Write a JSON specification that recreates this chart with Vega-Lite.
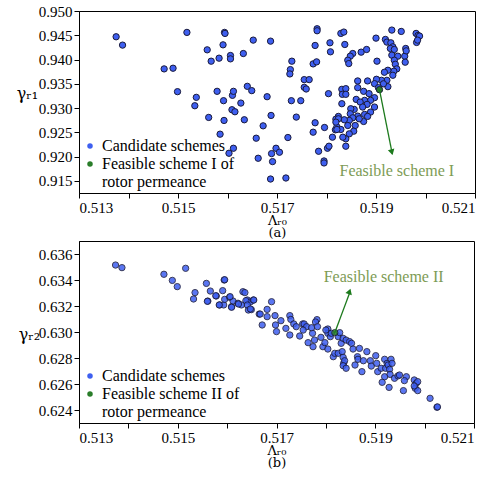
{
  "$schema": "https://vega.github.io/schema/vega-lite/v6.json",
  "padding": {"left": 15, "top": 3, "right": 5, "bottom": 2},
  "background": "white",
  "spacing": 0,
  "config": {
    "font": "Liberation Serif",
    "view": {"stroke": "black", "strokeWidth": 1},
    "axis": {"grid": false, "labelFont": "Liberation Serif", "titleFont": "DejaVu Serif", "labelFontSize": 15, "labelColor": "black", "domainColor": "black", "tickColor": "black", "tickSize": 5, "titleFontWeight": "normal", "titleColor": "black"},
    "legend": {"labelFont": "Liberation Serif", "labelFontSize": 16, "labelColor": "black"}
  },
  "datasets": {
    "top": [
      {"x":0.51375,"y":0.94469,"k":"c"},{"x":0.51388,"y":0.94297,"k":"c"},{"x":0.51472,"y":0.93807,"k":"c"},{"x":0.51490,"y":0.93821,"k":"c"},{"x":0.51499,"y":0.93338,"k":"c"},{"x":0.51518,"y":0.94559,"k":"c"},{"x":0.51537,"y":0.93221,"k":"c"},{"x":0.51534,"y":0.93048,"k":"c"},{"x":0.51559,"y":0.94200,"k":"c"},{"x":0.51567,"y":0.93966,"k":"c"},{"x":0.51562,"y":0.92807,"k":"c"},{"x":0.51579,"y":0.93345,"k":"c"},{"x":0.51583,"y":0.94028,"k":"c"},{"x":0.51591,"y":0.94303,"k":"c"},{"x":0.51592,"y":0.93152,"k":"c"},{"x":0.51594,"y":0.94559,"k":"c"},{"x":0.51595,"y":0.94538,"k":"c"},{"x":0.51593,"y":0.92745,"k":"c"},{"x":0.51606,"y":0.94083,"k":"c"},{"x":0.51606,"y":0.94014,"k":"c"},{"x":0.51610,"y":0.93262,"k":"c"},{"x":0.51612,"y":0.93345,"k":"c"},{"x":0.51609,"y":0.92966,"k":"c"},{"x":0.51615,"y":0.92924,"k":"c"},{"x":0.51585,"y":0.92462,"k":"c"},{"x":0.51603,"y":0.92069,"k":"c"},{"x":0.51612,"y":0.92172,"k":"c"},{"x":0.51627,"y":0.93103,"k":"c"},{"x":0.51632,"y":0.94124,"k":"c"},{"x":0.51634,"y":0.92759,"k":"c"},{"x":0.51640,"y":0.93448,"k":"c"},{"x":0.51649,"y":0.93359,"k":"c"},
      {"x":0.51652,"y":0.94400,"k":"c"},{"x":0.51687,"y":0.94379,"k":"c"},{"x":0.51680,"y":0.93234,"k":"c"},{"x":0.51688,"y":0.92848,"k":"c"},{"x":0.51672,"y":0.92634,"k":"c"},{"x":0.51658,"y":0.92379,"k":"c"},{"x":0.51662,"y":0.91966,"k":"c"},{"x":0.51698,"y":0.92172,"k":"c"},{"x":0.51705,"y":0.92090,"k":"c"},{"x":0.51689,"y":0.92062,"k":"c"},{"x":0.51691,"y":0.91897,"k":"c"},{"x":0.51687,"y":0.91538,"k":"c"},{"x":0.51718,"y":0.91559,"k":"c"},{"x":0.51722,"y":0.92393,"k":"c"},{"x":0.51727,"y":0.93793,"k":"c"},{"x":0.51726,"y":0.93703,"k":"c"},{"x":0.51730,"y":0.93966,"k":"c"},{"x":0.51729,"y":0.93152,"k":"c"},{"x":0.51739,"y":0.92814,"k":"c"},{"x":0.51748,"y":0.93152,"k":"c"},{"x":0.51755,"y":0.93586,"k":"c"},{"x":0.51755,"y":0.93428,"k":"c"},{"x":0.51759,"y":0.93393,"k":"c"},{"x":0.51765,"y":0.93586,"k":"c"},{"x":0.51773,"y":0.93910,"k":"c"},{"x":0.51780,"y":0.93952,"k":"c"},{"x":0.51777,"y":0.94290,"k":"c"},{"x":0.51781,"y":0.94634,"k":"c"},{"x":0.51781,"y":0.94593,"k":"c"},{"x":0.51773,"y":0.92503,"k":"c"},{"x":0.51777,"y":0.92697,"k":"c"},{"x":0.51796,"y":0.92600,"k":"c"},{"x":0.51784,"y":0.92110,"k":"c"},{"x":0.51795,"y":0.91910,"k":"c"},{"x":0.51795,"y":0.91869,"k":"c"},{"x":0.51802,"y":0.92172,"k":"c"},{"x":0.51805,"y":0.92214,"k":"c"},{"x":0.51804,"y":0.93297,"k":"c"},{"x":0.51807,"y":0.94345,"k":"c"},{"x":0.51808,"y":0.94159,"k":"c"},{"x":0.51812,"y":0.92400,"k":"c"},{"x":0.51818,"y":0.92552,"k":"c"},{"x":0.51821,"y":0.92614,"k":"c"},{"x":0.51824,"y":0.92828,"k":"c"},{"x":0.51819,"y":0.92772,"k":"c"},
      {"x":0.51829,"y":0.94538,"k":"c"},{"x":0.51835,"y":0.94566,"k":"c"},{"x":0.51837,"y":0.94310,"k":"c"},{"x":0.51853,"y":0.94124,"k":"c"},{"x":0.51848,"y":0.94069,"k":"c"},{"x":0.51843,"y":0.93986,"k":"c"},{"x":0.51845,"y":0.93917,"k":"c"},{"x":0.51870,"y":0.94152,"k":"c"},{"x":0.51881,"y":0.94207,"k":"c"},{"x":0.51900,"y":0.94441,"k":"c"},{"x":0.51902,"y":0.93966,"k":"c"},{"x":0.51919,"y":0.94414,"k":"c"},{"x":0.51922,"y":0.94359,"k":"c"},{"x":0.51930,"y":0.94345,"k":"c"},{"x":0.51932,"y":0.94607,"k":"c"},{"x":0.51951,"y":0.94579,"k":"c"},{"x":0.51934,"y":0.94262,"k":"c"},{"x":0.51929,"y":0.94228,"k":"c"},{"x":0.51937,"y":0.94207,"k":"c"},{"x":0.51932,"y":0.94090,"k":"c"},{"x":0.51944,"y":0.94069,"k":"c"},{"x":0.51958,"y":0.94069,"k":"c"},{"x":0.51960,"y":0.94228,"k":"c"},{"x":0.51961,"y":0.94179,"k":"c"},{"x":0.51959,"y":0.93945,"k":"c"},{"x":0.51937,"y":0.93986,"k":"c"},{"x":0.51939,"y":0.93903,"k":"c"},{"x":0.51942,"y":0.93807,"k":"c"},{"x":0.51936,"y":0.93759,"k":"c"},{"x":0.51924,"y":0.93779,"k":"c"},{"x":0.51917,"y":0.93738,"k":"c"},{"x":0.51934,"y":0.93676,"k":"c"},{"x":0.51922,"y":0.93572,"k":"c"},{"x":0.51911,"y":0.93572,"k":"c"},{"x":0.51901,"y":0.93593,"k":"c"},{"x":0.51897,"y":0.93503,"k":"c"},{"x":0.51924,"y":0.93441,"k":"c"},{"x":0.51981,"y":0.94538,"k":"c"},{"x":0.51985,"y":0.94497,"k":"c"},{"x":0.51988,"y":0.94483,"k":"c"},{"x":0.51982,"y":0.94352,"k":"c"},{"x":0.51984,"y":0.94400,"k":"c"},{"x":0.51863,"y":0.93559,"k":"c"},{"x":0.51883,"y":0.93559,"k":"c"},{"x":0.51831,"y":0.93386,"k":"c"},{"x":0.51839,"y":0.93400,"k":"c"},{"x":0.51832,"y":0.93283,"k":"c"},{"x":0.51839,"y":0.93283,"k":"c"},{"x":0.51831,"y":0.93090,"k":"c"},{"x":0.51863,"y":0.93421,"k":"c"},{"x":0.51875,"y":0.93345,"k":"c"},{"x":0.51886,"y":0.93297,"k":"c"},{"x":0.51897,"y":0.93214,"k":"c"},{"x":0.51889,"y":0.93159,"k":"c"},{"x":0.51877,"y":0.93159,"k":"c"},{"x":0.51860,"y":0.93179,"k":"c"},{"x":0.51868,"y":0.93124,"k":"c"},{"x":0.51882,"y":0.93076,"k":"c"},{"x":0.51873,"y":0.93021,"k":"c"},{"x":0.51856,"y":0.92972,"k":"c"},{"x":0.51897,"y":0.93021,"k":"c"},{"x":0.51889,"y":0.92917,"k":"c"},{"x":0.51849,"y":0.92986,"k":"c"},{"x":0.51848,"y":0.92883,"k":"c"},{"x":0.51863,"y":0.92834,"k":"c"},{"x":0.51877,"y":0.92869,"k":"c"},{"x":0.51875,"y":0.92724,"k":"c"},{"x":0.51853,"y":0.92800,"k":"c"},{"x":0.51846,"y":0.92745,"k":"c"},{"x":0.51836,"y":0.92759,"k":"c"},{"x":0.51824,"y":0.92779,"k":"c"},{"x":0.51819,"y":0.92710,"k":"c"},{"x":0.51843,"y":0.92641,"k":"c"},{"x":0.51858,"y":0.92641,"k":"c"},{"x":0.51855,"y":0.92524,"k":"c"},{"x":0.51846,"y":0.92469,"k":"c"},{"x":0.51839,"y":0.92366,"k":"c"},{"x":0.51833,"y":0.92400,"k":"c"},{"x":0.51829,"y":0.92559,"k":"c"},{"x":0.51821,"y":0.92559,"k":"c"},{"x":0.51839,"y":0.92214,"k":"c"},{"x":0.51866,"y":0.92779,"k":"c"},{"x":0.51883,"y":0.92828,"k":"c"},{"x":0.51915,"y":0.93500,"k":"c"},{"x":0.51905,"y":0.93420,"k":"c"},
      {"x":0.51907,"y":0.93379,"k":"f"}
    ],
    "bottom": [
      {"x":0.51374,"y":0.63515,"k":"c"},{"x":0.51387,"y":0.63495,"k":"c"},{"x":0.51472,"y":0.63444,"k":"c"},{"x":0.51489,"y":0.63397,"k":"c"},{"x":0.51499,"y":0.63349,"k":"c"},{"x":0.51516,"y":0.63490,"k":"c"},{"x":0.51535,"y":0.63303,"k":"c"},{"x":0.51532,"y":0.63254,"k":"c"},{"x":0.51558,"y":0.63374,"k":"c"},{"x":0.51561,"y":0.63238,"k":"c"},{"x":0.51566,"y":0.63315,"k":"c"},{"x":0.51578,"y":0.63277,"k":"c"},{"x":0.51591,"y":0.63318,"k":"c"},{"x":0.51594,"y":0.63400,"k":"c"},{"x":0.51595,"y":0.63402,"k":"c"},{"x":0.51585,"y":0.63208,"k":"c"},{"x":0.51593,"y":0.63208,"k":"c"},{"x":0.51595,"y":0.63251,"k":"c"},{"x":0.51605,"y":0.63267,"k":"c"},{"x":0.51609,"y":0.63195,"k":"c"},{"x":0.51612,"y":0.63238,"k":"c"},{"x":0.51622,"y":0.63221,"k":"c"},{"x":0.51629,"y":0.63208,"k":"c"},{"x":0.51632,"y":0.63310,"k":"c"},{"x":0.51641,"y":0.63246,"k":"c"},{"x":0.51643,"y":0.63169,"k":"c"},{"x":0.51647,"y":0.63231,"k":"c"},
      {"x":0.51577,"y":0.63279,"k":"c"},{"x":0.51584,"y":0.63208,"k":"c"},{"x":0.51606,"y":0.63272,"k":"c"},{"x":0.51609,"y":0.63190,"k":"c"},{"x":0.51623,"y":0.63215,"k":"c"},{"x":0.51638,"y":0.63241,"k":"c"},{"x":0.51649,"y":0.63172,"k":"c"},{"x":0.51653,"y":0.63246,"k":"c"},{"x":0.51665,"y":0.63138,"k":"c"},{"x":0.51560,"y":0.63236,"k":"c"},
      {"x":0.51636,"y":0.63303,"k":"c"},{"x":0.51654,"y":0.63246,"k":"c"},{"x":0.51641,"y":0.63208,"k":"c"},{"x":0.51647,"y":0.63177,"k":"c"},{"x":0.51667,"y":0.63138,"k":"c"},{"x":0.51671,"y":0.63054,"k":"c"},{"x":0.51681,"y":0.63174,"k":"c"},{"x":0.51681,"y":0.63118,"k":"c"},{"x":0.51690,"y":0.63233,"k":"c"},{"x":0.51697,"y":0.63126,"k":"c"},{"x":0.51698,"y":0.63054,"k":"c"},{"x":0.51700,"y":0.63003,"k":"c"},{"x":0.51709,"y":0.63087,"k":"c"},{"x":0.51719,"y":0.63028,"k":"c"},{"x":0.51727,"y":0.63126,"k":"c"},{"x":0.51729,"y":0.63097,"k":"c"},{"x":0.51727,"y":0.62977,"k":"c"},{"x":0.51735,"y":0.63062,"k":"c"},{"x":0.51740,"y":0.63041,"k":"c"},{"x":0.51747,"y":0.62969,"k":"c"},{"x":0.51753,"y":0.63062,"k":"c"},{"x":0.51756,"y":0.63062,"k":"c"},{"x":0.51761,"y":0.63041,"k":"c"},{"x":0.51754,"y":0.63015,"k":"c"},{"x":0.51764,"y":0.62918,"k":"c"},{"x":0.51773,"y":0.62990,"k":"c"},{"x":0.51771,"y":0.63033,"k":"c"},{"x":0.51774,"y":0.62887,"k":"c"},{"x":0.51777,"y":0.62938,"k":"c"},{"x":0.51782,"y":0.63095,"k":"c"},{"x":0.51779,"y":0.63077,"k":"c"},{"x":0.51783,"y":0.63041,"k":"c"},{"x":0.51790,"y":0.62959,"k":"c"},{"x":0.51794,"y":0.62887,"k":"c"},{"x":0.51798,"y":0.62918,"k":"c"},{"x":0.51804,"y":0.63023,"k":"c"},{"x":0.51804,"y":0.62990,"k":"c"},{"x":0.51809,"y":0.62964,"k":"c"},{"x":0.51804,"y":0.62869,"k":"c"},{"x":0.51815,"y":0.62810,"k":"c"},{"x":0.51818,"y":0.62836,"k":"c"},{"x":0.51825,"y":0.62964,"k":"c"},{"x":0.51828,"y":0.62995,"k":"c"},{"x":0.51825,"y":0.62836,"k":"c"},{"x":0.51833,"y":0.62849,"k":"c"},{"x":0.51831,"y":0.62913,"k":"c"},{"x":0.51835,"y":0.62805,"k":"c"},{"x":0.51836,"y":0.62759,"k":"c"},{"x":0.51838,"y":0.62779,"k":"c"},{"x":0.51835,"y":0.62741,"k":"c"},{"x":0.51841,"y":0.62721,"k":"c"},{"x":0.51835,"y":0.62951,"k":"c"},{"x":0.51841,"y":0.62938,"k":"c"},{"x":0.51848,"y":0.62926,"k":"c"},{"x":0.51852,"y":0.62913,"k":"c"},{"x":0.51855,"y":0.62869,"k":"c"},{"x":0.51859,"y":0.62746,"k":"c"},{"x":0.51864,"y":0.62810,"k":"c"},{"x":0.51865,"y":0.62790,"k":"c"},{"x":0.51873,"y":0.62695,"k":"c"},{"x":0.51868,"y":0.62874,"k":"c"},{"x":0.51883,"y":0.62849,"k":"c"},{"x":0.51876,"y":0.62779,"k":"c"},{"x":0.51890,"y":0.62779,"k":"c"},{"x":0.51892,"y":0.62738,"k":"c"},{"x":0.51901,"y":0.62818,"k":"c"},{"x":0.51905,"y":0.62695,"k":"c"},{"x":0.51903,"y":0.62759,"k":"c"},{"x":0.51912,"y":0.62721,"k":"c"},{"x":0.51919,"y":0.62790,"k":"c"},{"x":0.51921,"y":0.62721,"k":"c"},{"x":0.51924,"y":0.62759,"k":"c"},{"x":0.51914,"y":0.62613,"k":"c"},{"x":0.51919,"y":0.62656,"k":"c"},{"x":0.51926,"y":0.62746,"k":"c"},{"x":0.51932,"y":0.62790,"k":"c"},{"x":0.51934,"y":0.62759,"k":"c"},{"x":0.51929,"y":0.62713,"k":"c"},{"x":0.51930,"y":0.62674,"k":"c"},{"x":0.51928,"y":0.62574,"k":"c"},{"x":0.51939,"y":0.62644,"k":"c"},{"x":0.51946,"y":0.62662,"k":"c"},{"x":0.51949,"y":0.62669,"k":"c"},{"x":0.51957,"y":0.62549,"k":"c"},{"x":0.51963,"y":0.62656,"k":"c"},{"x":0.51959,"y":0.62626,"k":"c"},{"x":0.51979,"y":0.62631,"k":"c"},{"x":0.51983,"y":0.62605,"k":"c"},{"x":0.51986,"y":0.62618,"k":"c"},{"x":0.51981,"y":0.62567,"k":"c"},{"x":0.51986,"y":0.62549,"k":"c"},{"x":0.51979,"y":0.62585,"k":"c"},{"x":0.52011,"y":0.62490,"k":"c"},{"x":0.52025,"y":0.62421,"k":"c"},{"x":0.52026,"y":0.62424,"k":"c"},{"x":0.51800,"y":0.63015,"k":"c"},{"x":0.51811,"y":0.62990,"k":"c"},
      {"x":0.51818,"y":0.62995,"k":"f"}
    ],
    "arrowTop": [{"x":0.51907,"y":0.93379,"x2":0.51933,"y2":0.92050}],
    "headTop": [{"x":0.51932,"y":0.92090}],
    "labelTop": [{"x":0.51942,"y":0.91710,"label":"Feasible scheme I"}],
    "arrowBottom": [{"x":0.51818,"y":0.62995,"x2":0.51849,"y2":0.63310}],
    "headBottom": [{"x":0.51848,"y":0.63312}],
    "labelBottom": [{"x":0.51917,"y":0.63421,"label":"Feasible scheme  II"}]
  },
  "vconcat": [
    {
      "width": 396,
      "height": 182,
      "encoding": {
        "x": {"field": "x", "type": "quantitative", "scale": {"domain": [0.513, 0.521], "nice": false, "zero": false}, "axis": {"values": [0.513,0.514,0.515,0.516,0.517,0.518,0.519,0.52,0.521], "format": ".3f", "labelFont": "Liberation Serif", "labelFontSize": 15, "titleFont": "DejaVu Serif", "title": ["Λᵣ₀", "(a)"], "titleFontSize": 13, "titleLineHeight": 12, "titlePadding": -1}},
        "y": {"field": "y", "type": "quantitative", "scale": {"domain": [0.9125, 0.950], "nice": false, "zero": false}, "axis": {"values": [0.915,0.92,0.925,0.93,0.935,0.94,0.945,0.95], "format": ".3f", "labelFont": "Liberation Serif", "labelFontSize": 15, "titleFont": "DejaVu Serif", "title": "γᵣ₁", "titleFontSize": 16, "titleAngle": 0, "titleX": -52, "titleY": 82, "titleAlign": "center", "titleBaseline": "middle"}}
      },
      "layer": [
        {
          "data": {"name": "top"},
          "mark": {"type": "point", "filled": true, "size": 40, "stroke": "#1a1a3a", "strokeWidth": 1, "opacity": 1},
          "encoding": {
            "color": {"field": "k", "type": "nominal", "scale": {"domain": ["c", "f"], "range": ["#3e5ff0", "#2a7d2a"]},
              "legend": {"title": null, "orient": "bottom-left", "offset": 3, "padding": 0, "symbolType": "circle", "symbolSize": 30, "symbolStrokeWidth": 0, "symbolOpacity": 1, "labelOffset": 4, "rowPadding": 2, "labelFontSize": 16, "labelFont": "Liberation Serif",
                "labelExpr": "datum.value == 'c' ? 'Candidate schemes' : ['Feasible scheme I of', '\u00a0\u00a0\u00a0rotor permeance']"}}
          }
        },
        {
          "data": {"name": "arrowTop"},
          "mark": {"type": "rule", "color": "#1d7a1d", "strokeWidth": 1.3},
          "encoding": {"x2": {"field": "x2"}, "y2": {"field": "y2"}}
        },
        {
          "data": {"name": "headTop"},
          "mark": {"type": "point", "shape": "triangle-down", "filled": true, "color": "#1d7a1d", "size": 45, "angle": 345, "opacity": 1},
          "encoding": {}
        },
        {
          "data": {"name": "labelTop"},
          "mark": {"type": "text", "fontSize": 16, "color": "#7d9b55", "font": "Liberation Serif"},
          "encoding": {"text": {"field": "label"}}
        }
      ]
    },
    {
      "width": 395,
      "height": 182,
      "encoding": {
        "x": {"field": "x", "type": "quantitative", "scale": {"domain": [0.513, 0.521], "nice": false, "zero": false}, "axis": {"values": [0.513,0.514,0.515,0.516,0.517,0.518,0.519,0.52,0.521], "format": ".3f", "labelFont": "Liberation Serif", "labelFontSize": 15, "titleFont": "DejaVu Serif", "title": ["Λᵣ₀", "(b)"], "titleFontSize": 13, "titleLineHeight": 12, "titlePadding": -1}},
        "y": {"field": "y", "type": "quantitative", "scale": {"domain": [0.623, 0.637], "nice": false, "zero": false}, "axis": {"values": [0.624,0.626,0.628,0.63,0.632,0.634,0.636], "format": ".3f", "labelFont": "Liberation Serif", "labelFontSize": 15, "titleFont": "DejaVu Serif", "title": "γᵣ₂", "titleFontSize": 16, "titleAngle": 0, "titleX": -50, "titleY": 93, "titleAlign": "center", "titleBaseline": "middle"}}
      },
      "layer": [
        {
          "data": {"name": "bottom"},
          "mark": {"type": "point", "filled": true, "size": 40, "stroke": "#1a1a3a", "strokeWidth": 1, "opacity": 0.85},
          "encoding": {
            "color": {"field": "k", "type": "nominal", "scale": {"domain": ["c", "f"], "range": ["#3e5ff0", "#2a7d2a"]},
              "legend": {"title": null, "orient": "bottom-left", "offset": 3, "padding": 0, "symbolType": "circle", "symbolSize": 30, "symbolStrokeWidth": 0, "symbolOpacity": 1, "labelOffset": 4, "rowPadding": 2, "labelFontSize": 16, "labelFont": "Liberation Serif",
                "labelExpr": "datum.value == 'c' ? 'Candidate schemes' : ['Feasible scheme II of', '\u00a0\u00a0\u00a0\u00a0rotor permeance']"}}
          }
        },
        {
          "data": {"name": "arrowBottom"},
          "mark": {"type": "rule", "color": "#1d7a1d", "strokeWidth": 1.3},
          "encoding": {"x2": {"field": "x2"}, "y2": {"field": "y2"}}
        },
        {
          "data": {"name": "headBottom"},
          "mark": {"type": "point", "shape": "triangle-up", "filled": true, "color": "#1d7a1d", "size": 45, "angle": 19, "opacity": 1},
          "encoding": {}
        },
        {
          "data": {"name": "labelBottom"},
          "mark": {"type": "text", "fontSize": 16, "color": "#7d9b55", "font": "Liberation Serif"},
          "encoding": {"text": {"field": "label"}}
        }
      ],
      "resolve": {"scale": {"color": "independent"}}
    }
  ],
  "resolve": {"scale": {"color": "independent"}, "legend": {"color": "independent"}}
}
